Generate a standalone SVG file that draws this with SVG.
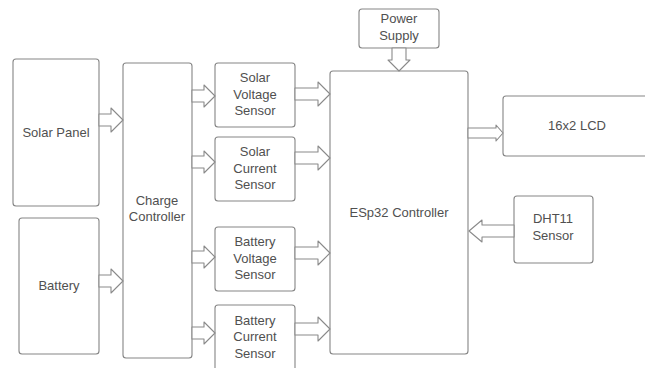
<svg xmlns="http://www.w3.org/2000/svg" width="645" height="368" viewBox="0 0 645 368">
<style>
.box{fill:#fff;stroke:#858585;stroke-width:1.1}
.arr{fill:#fff;stroke:#8a8a8a;stroke-width:1.1;stroke-linejoin:round}
text{font-family:"Liberation Sans",Arial,sans-serif;font-size:13px;fill:#505050;text-anchor:middle}
</style>
<rect width="645" height="368" fill="#fff"/>
<g id="solar-panel"><rect class="box" x="13" y="59" width="86" height="147" rx="3"/><text x="56" y="137">Solar Panel</text></g>
<g id="battery"><rect class="box" x="19" y="218" width="80" height="136" rx="3"/><text x="59" y="290">Battery</text></g>
<g id="charge-controller"><rect class="box" x="123" y="63" width="69" height="295" rx="3"/><text x="157" y="205">Charge</text><text x="157" y="221">Controller</text></g>
<g id="solar-voltage-sensor"><rect class="box" x="215" y="63" width="80" height="64" rx="3"/><text x="255" y="82">Solar</text><text x="255" y="98.5">Voltage</text><text x="255" y="115">Sensor</text></g>
<g id="solar-current-sensor"><rect class="box" x="215" y="137" width="80" height="64" rx="3"/><text x="255" y="156">Solar</text><text x="255" y="172.5">Current</text><text x="255" y="189">Sensor</text></g>
<g id="battery-voltage-sensor"><rect class="box" x="215" y="227" width="80" height="64" rx="3"/><text x="255" y="246">Battery</text><text x="255" y="262.5">Voltage</text><text x="255" y="279">Sensor</text></g>
<g id="battery-current-sensor"><rect class="box" x="215" y="305" width="80" height="70" rx="3"/><text x="255" y="325">Battery</text><text x="255" y="341">Current</text><text x="255" y="357.5">Sensor</text></g>
<g id="power-supply"><rect class="box" x="359" y="9" width="80" height="39" rx="3"/><text x="399" y="23">Power</text><text x="399" y="39.5">Supply</text></g>
<g id="esp32-controller"><rect class="box" x="330" y="71" width="138" height="283" rx="3"/><text x="399" y="217">ESp32 Controller</text></g>
<g id="lcd"><rect class="box" x="503" y="96" width="150" height="60" rx="3"/><text x="577" y="130">16x2 LCD</text></g>
<g id="dht11-sensor"><rect class="box" x="514" y="196" width="79" height="67" rx="3"/><text x="553" y="223">DHT11</text><text x="553" y="240">Sensor</text></g>
<g id="connectors">
<path class="arr" d="M99,114 L111,114 L111,108 L123,120 L111,132 L111,126 L99,126 Z"/>
<path class="arr" d="M99,275 L111,275 L111,269 L123,281 L111,293 L111,287 L99,287 Z"/>
<path class="arr" d="M192,90 L204,90 L204,85 L215,96 L204,107 L204,102 L192,102 Z"/>
<path class="arr" d="M192,156 L204,156 L204,151 L215,162 L204,173 L204,168 L192,168 Z"/>
<path class="arr" d="M192,251 L204,251 L204,246 L215,257 L204,268 L204,263 L192,263 Z"/>
<path class="arr" d="M192,327 L204,327 L204,322 L215,333 L204,344 L204,339 L192,339 Z"/>
<path class="arr" d="M295,88 L318,88 L318,82 L330,94 L318,106 L318,100 L295,100 Z"/>
<path class="arr" d="M295,152 L318,152 L318,146 L330,158 L318,170 L318,164 L295,164 Z"/>
<path class="arr" d="M295,247 L318,247 L318,241 L330,253 L318,265 L318,259 L295,259 Z"/>
<path class="arr" d="M295,323 L318,323 L318,317 L330,329 L318,341 L318,335 L295,335 Z"/>
<path class="arr" d="M468,128 L496,128 L496,125 L503,133 L496,141 L496,138 L468,138 Z"/>
<path class="arr" d="M514,225 L482,225 L482,220 L469,231 L482,242 L482,237 L514,237 Z"/>
<path class="arr" d="M392,48 L392,60 L388,60 L399,71 L410,60 L406,60 L406,48 Z"/>
</g>
</svg>
